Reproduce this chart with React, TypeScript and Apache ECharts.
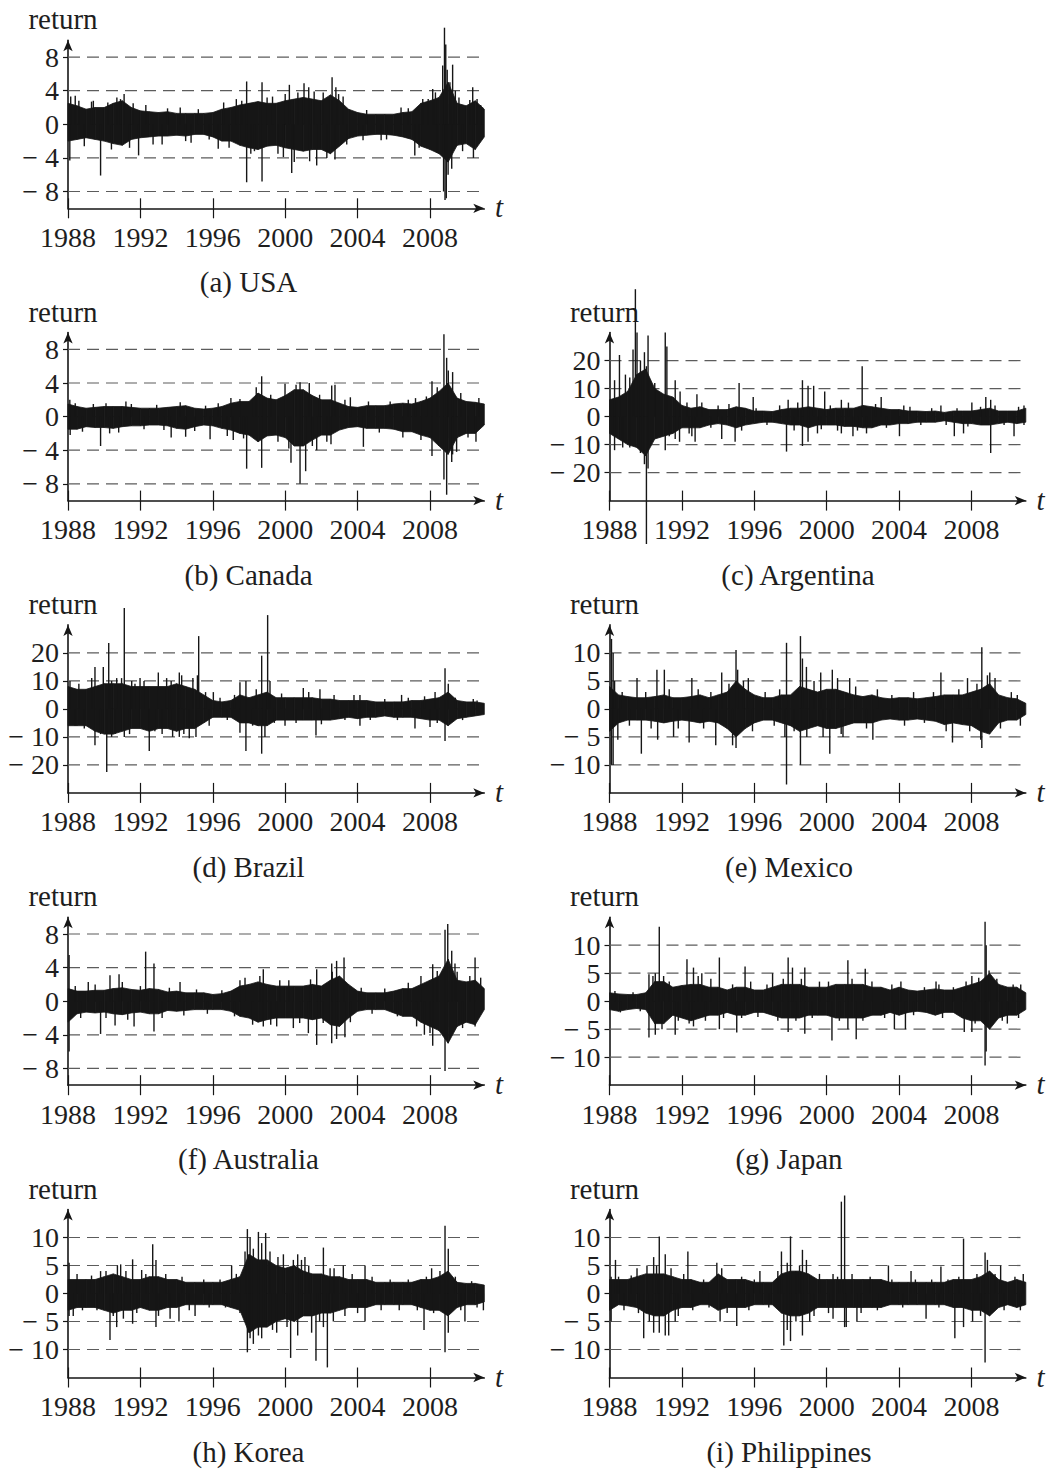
import React, { useEffect, useRef } from "react";
import * as echarts from "echarts";

// ---------------- DATA ----------------
// Half-year nodes of the dense return band (upper / lower envelope)
const BIN_YEARS = [
  1988, 1988.5, 1989, 1989.5, 1990, 1990.5, 1991, 1991.5, 1992, 1992.5,
  1993, 1993.5, 1994, 1994.5, 1995, 1995.5, 1996, 1996.5, 1997, 1997.5,
  1998, 1998.5, 1999, 1999.5, 2000, 2000.5, 2001, 2001.5, 2002, 2002.5,
  2003, 2003.5, 2004, 2004.5, 2005, 2005.5, 2006, 2006.5, 2007, 2007.5,
  2008, 2008.5, 2009, 2009.5, 2010, 2010.5, 2011,
];
const YEAR_TICKS = [1988, 1992, 1996, 2000, 2004, 2008];

const TICKS_8 = [-8, -4, 0, 4, 8];
const TICKS_20 = [-20, -10, 0, 10, 20];
const TICKS_10 = [-10, -5, 0, 5, 10];

const USA_HI = [
  2.5, 2.2, 1.8, 2.0, 2.0, 2.5, 2.8, 2.0, 1.6, 1.5,
  1.4, 1.5, 1.3, 1.3, 1.3, 1.3, 1.4, 1.8, 2.0, 2.3,
  2.5, 2.7, 2.5, 2.5, 2.8, 3.0, 3.2, 3.0, 2.8, 3.5,
  2.8, 1.8, 1.4, 1.2, 1.2, 1.2, 1.2, 1.4, 1.5, 2.5,
  2.8, 3.2, 5.0, 2.5, 2.2, 2.8, 1.8,
];
const USA_LO = [
  -2.0, -1.8, -1.6, -1.8, -2.0, -2.3, -2.5, -1.8, -1.6, -1.5,
  -1.4, -1.4, -1.3, -1.4, -1.2, -1.2, -1.5, -2.0, -2.0, -2.5,
  -2.8, -3.0, -2.6, -2.5, -2.8, -3.0, -3.2, -3.0, -3.0, -3.5,
  -2.6, -1.7, -1.4, -1.3, -1.2, -1.2, -1.3, -1.5, -1.8, -2.6,
  -3.0, -3.5, -4.5, -2.5, -2.3, -3.0, -1.5,
];
const USA_SPIKES = [
  [1988.1, -4.3], [1988.15, 3.3], [1988.6, 2.8], [1989.3, 2.7], [1989.8, -6.1],
  [1990.4, -3.0], [1990.7, 3.2], [1991.1, 3.6], [1991.4, -2.8], [1991.9, -3.7],
  [1992.3, 2.3], [1993.2, -2.4], [1994.2, 2.0], [1994.8, -2.2], [1996.3, -2.9],
  [1996.6, 2.6], [1997.3, 3.0], [1997.87, 5.1], [1997.87, -6.9], [1998.3, -3.2],
  [1998.72, 5.0], [1998.72, -6.8], [1999.3, 3.3], [1999.9, -3.9], [2000.23, 4.7],
  [2000.36, -5.8], [2000.7, 3.8], [2001.04, 4.9], [2001.3, 4.4], [2001.35, -4.4],
  [2001.74, -4.9], [2002.1, 3.8], [2002.59, 5.6], [2002.75, -4.2], [2002.8, 4.4],
  [2003.2, 3.3], [2004.3, -1.9], [2005.3, -1.9], [2006.4, 2.0], [2007.16, -3.7],
  [2007.6, 3.0], [2008.15, 4.2], [2008.4, -3.4], [2008.7, 7.0], [2008.75, -8.0],
  [2008.8, 11.5], [2008.83, -9.0], [2008.87, 9.5], [2008.9, -8.8], [2008.95, 6.5],
  [2009.0, -6.0], [2009.1, 5.0], [2009.2, -5.3], [2009.25, 7.1], [2009.4, 4.0],
  [2010.36, 4.4], [2010.4, -4.0], [2010.6, 3.0], [2010.8, 2.3],
];
const USA_FRINGE = [
  [1988.4, 3.4], [1988.9, -2.6], [1989.4, 2.8], [1990.2, 2.6], [1990.9, 3.0],
  [1991.6, 2.5], [1992.7, -2.4], [1993.5, 1.9], [1994.5, -2.0], [1995.2, 1.8],
  [1995.8, -1.8], [1996.9, -2.8], [1997.6, 2.8], [1998.1, -3.5], [1999.0, 3.2],
  [1999.6, -3.5], [2000.0, 3.6], [2000.5, -4.5], [2001.6, 3.9], [2002.3, -4.0],
  [2002.95, 3.6], [2003.4, -2.4], [2004.5, 1.7], [2005.6, -1.8], [2006.8, 1.9],
  [2007.4, -2.8], [2007.9, 3.0], [2008.3, 3.8], [2009.6, 3.2], [2009.8, -3.2],
  [2010.2, 2.9], [2010.9, 2.0],
];

const CAN_HI = [
  1.5, 1.2, 1.0, 1.1, 1.2, 1.2, 1.2, 1.1, 1.0, 1.0,
  1.0, 1.1, 1.2, 1.3, 1.0, 0.9, 1.0, 1.2, 1.6, 1.8,
  1.8, 2.8, 2.2, 2.0, 2.5, 3.2, 3.2, 2.5, 2.0, 2.0,
  1.6, 1.2, 1.1, 1.3, 1.3, 1.3, 1.5, 1.6, 1.5, 1.8,
  2.2, 3.0, 4.0, 2.2, 1.8, 1.7, 1.5,
];
const CAN_LO = [
  -1.5, -1.5, -1.2, -1.3, -1.3, -1.4, -1.2, -1.1, -1.1, -1.0,
  -1.0, -1.1, -1.4, -1.5, -1.2, -1.0, -1.1, -1.4, -1.6, -2.0,
  -2.2, -3.0, -2.3, -2.2, -2.5, -3.5, -3.5, -2.8, -2.2, -2.2,
  -1.6, -1.3, -1.2, -1.4, -1.4, -1.4, -1.5, -1.8, -1.8, -2.2,
  -2.5, -3.5, -4.5, -2.5, -2.0, -2.0, -1.0,
];
const CAN_SPIKES = [
  [1988.1, 2.0], [1988.12, -2.2], [1989.8, -3.5], [1990.3, -2.0], [1991.2, 1.8],
  [1993.7, -2.5], [1994.5, -2.4], [1995.85, -2.7], [1996.8, -2.3], [1997.13, -2.8],
  [1997.5, 2.1], [1997.87, -6.2], [1998.24, 2.1], [1998.7, 4.8], [1998.7, -6.1],
  [1999.99, 3.9], [2000.32, -5.5], [2000.82, 4.1], [2000.82, -8.0], [2001.13, -6.5],
  [2001.33, 4.0], [2001.74, -4.0], [2002.53, -3.3], [2002.57, 3.7], [2002.75, 3.8],
  [2003.6, 2.3], [2004.32, -3.6], [2006.5, -2.5], [2007.2, 2.2], [2008.11, 4.2],
  [2008.11, -4.7], [2008.77, 9.8], [2008.77, -7.5], [2008.92, -9.3], [2008.92, 7.0],
  [2009.01, 5.5], [2009.2, -5.4], [2009.25, 5.3], [2009.25, -4.5], [2009.47, -4.2],
  [2010.54, -3.0],
];
const CAN_FRINGE = [
  [1988.4, 1.6], [1988.8, -1.8], [1989.4, 1.5], [1990.1, 1.6], [1990.8, -1.9],
  [1991.5, 1.5], [1992.2, -1.5], [1992.9, 1.4], [1993.3, -1.6], [1994.2, 1.7],
  [1995.0, -1.7], [1995.6, 1.3], [1996.3, 1.6], [1997.0, 2.2], [1997.7, -2.6],
  [1998.4, 3.5], [1999.2, 2.6], [1999.6, -3.0], [2000.2, -3.8], [2000.6, 3.8],
  [2001.5, -3.5], [2001.9, 2.6], [2002.3, -3.0], [2003.3, 2.0], [2004.6, 1.8],
  [2005.2, -1.9], [2005.8, 1.8], [2006.8, 2.0], [2007.5, -2.8], [2007.8, 2.4],
  [2008.4, 3.5], [2009.7, 2.8], [2010.1, -2.5], [2010.7, 2.2],
];

const ARG_HI = [
  6, 7, 9, 15, 17, 10, 8, 7, 4, 3,
  3.5, 2.5, 2.5, 2.5, 3.5, 3, 2, 2, 1.8, 2.5,
  3, 3, 3.5, 3, 2.5, 3, 3, 3, 4, 3.5,
  3, 2.5, 2.5, 2, 2, 1.8, 2, 1.5, 2, 2,
  2, 2.5, 3, 2, 2, 2, 3,
];
const ARG_LO = [
  -6, -8, -10, -11, -14, -8, -7, -6, -4, -4,
  -4, -3, -2.5, -3, -4, -3, -2.5, -2, -2, -2.5,
  -3, -3, -4, -3, -3, -3, -3.5, -3.5, -4, -4,
  -3, -3, -2.5, -2.5, -2, -2, -2, -1.5, -2, -2.5,
  -2.5, -3, -3, -2.5, -2, -2.5, -2,
];
const ARG_SPIKES = [
  [1988.28, 13], [1988.28, -12], [1988.55, 22], [1988.73, -11], [1988.88, 15],
  [1989.12, 14], [1989.12, -11], [1989.3, 24], [1989.43, 45.5], [1989.52, 30],
  [1989.71, 20], [1989.71, -13], [1989.93, 23], [1989.93, -17], [1990.04, -45.5],
  [1990.04, 18], [1990.13, 29], [1990.13, -18.5], [1990.5, 12], [1991.08, 30],
  [1991.08, -12], [1991.17, 25], [1991.63, 13], [1991.63, -8], [1991.87, -9],
  [1992.28, 5], [1992.55, -7], [1992.73, -9], [1992.83, 8], [1994.2, -8],
  [1994.94, -9], [1995.16, 12], [1995.94, 7], [1997.78, -12.5], [1997.87, 6],
  [1998.66, 13], [1998.66, -10.5], [1998.97, 11], [1998.97, -9], [1999.28, 11],
  [1999.49, -6], [1999.89, 9], [2000.81, 6], [2000.81, -6], [2001.45, -7],
  [2001.96, 18], [2003.01, 7], [2004.02, -7], [2004.26, 4], [2006.31, 4],
  [2007.05, -7], [2007.56, -6], [2008.02, 5], [2008.79, 7], [2009.06, -13],
  [2009.06, 6], [2010.35, -7], [2010.9, 4], [2010.9, -3],
];
const ARG_FRINGE = [
  [1988.1, 6], [1988.6, -8], [1991.3, -7], [1991.9, 9], [1992.4, -6],
  [1993.1, 5], [1993.6, -4], [1994.0, 4], [1994.6, 4.5], [1995.3, -5],
  [1996.1, 3], [1996.7, -3], [1997.4, 4], [1998.2, -5], [1998.4, 5],
  [1999.7, -4.5], [2000.2, 4], [2000.6, -5], [2001.2, 5], [2001.7, -5],
  [2002.2, -6], [2002.7, 4.5], [2003.3, -4], [2004.6, 3.5], [2005.2, -3],
  [2005.8, 3], [2006.6, -3], [2007.2, 3], [2007.8, -3.5], [2008.5, 3.5],
  [2009.3, 4], [2009.8, -3], [2010.6, 3.5],
];

const BRA_HI = [
  8, 7, 7, 8, 9, 9, 9, 8, 8, 8,
  8, 8, 9, 8, 7, 5, 3, 2.5, 3, 5,
  4, 5, 6, 4, 4, 4, 4, 4, 3.5, 3.5,
  3, 3, 3, 3, 2.5, 2.5, 2.5, 2.5, 3, 3,
  3.5, 4, 6, 3, 2.5, 2.5, 2,
];
const BRA_LO = [
  -6, -6, -6, -8, -9, -9, -8, -7, -7, -8,
  -7, -7, -8, -7, -7, -5, -3, -3, -3, -5,
  -5, -6, -6, -4, -4, -4, -4, -4, -4, -4,
  -3.5, -3, -3.5, -3, -3, -2.5, -3, -3, -3, -3.5,
  -4, -4, -6, -3.5, -3, -2.5, -2,
];
const BRA_SPIKES = [
  [1988.11, 10], [1988.39, -6], [1989.31, 11], [1989.49, 15], [1989.49, -13],
  [1989.95, 15], [1990.14, -22.5], [1990.25, 23.5], [1990.41, 10], [1990.41, -10],
  [1990.69, 11], [1990.96, 11], [1991.11, 36], [1991.11, -10], [1991.52, 10],
  [1991.98, 11], [1992.49, -15], [1992.99, 13], [1993.45, 11], [1993.78, -10],
  [1994.15, 13], [1994.15, -10], [1994.28, 12], [1994.7, -10.5], [1995.07, -10],
  [1995.15, 12], [1995.22, 26], [1996.03, 6], [1997.5, 9.5], [1997.5, -8.5],
  [1997.83, 10], [1997.83, -15], [1998.7, 19], [1998.7, -16], [1998.88, -10],
  [1999.03, 33.5], [1999.16, 10], [1999.99, -6], [2001.0, 7.5], [2001.7, -9.5],
  [2001.92, 7], [2004.13, -6], [2004.13, 5], [2006.43, 5], [2007.17, -7],
  [2008.0, -6.5], [2008.28, 6], [2008.83, 14.5], [2008.83, -11.5], [2009.01, 9],
  [2010.39, 3.5],
];
const BRA_FRINGE = [
  [1988.6, 9], [1988.9, -7], [1989.8, -9], [1990.6, -9], [1991.4, -9],
  [1991.7, 9], [1992.2, 10], [1992.8, -8], [1993.2, -9], [1993.7, 10],
  [1994.4, -9], [1994.9, 11], [1995.6, 6], [1995.8, -6], [1996.4, 4],
  [1996.8, -4], [1997.2, 5], [1998.2, -6], [1998.4, 7], [1999.4, -5],
  [1999.8, 5.5], [2000.6, -5], [2001.3, 6], [2002.0, -5.5], [2002.7, 5],
  [2003.3, -4], [2003.8, 5], [2004.7, -4], [2005.5, 3.5], [2006.2, -4],
  [2006.8, 4], [2007.7, 4.5], [2008.4, -5], [2009.4, 4], [2009.8, -4],
  [2010.6, 3],
];

const MEX_HI = [
  4, 2.5, 2.2, 2, 2, 2.2, 2.5, 2, 2, 2.2,
  2.5, 2, 2.5, 3, 5, 3.5, 2.5, 2, 2, 2.5,
  2.5, 4, 3.5, 3, 3.5, 3.5, 3, 2.5, 2.2, 2.5,
  2, 1.8, 2, 2, 1.8, 2, 2.2, 2.5, 2.5, 2.5,
  3, 3.5, 4.5, 2.5, 2, 1.8, 1,
];
const MEX_LO = [
  -4, -2.5, -2, -2, -2, -2.2, -2.5, -2.2, -2, -2.2,
  -2.5, -2.2, -2.5, -3.5, -5, -3.5, -2.5, -2, -2, -2.5,
  -3, -4, -3.5, -3, -3.5, -3.5, -3, -2.5, -2.5, -2.5,
  -2, -1.8, -2, -2, -1.8, -2, -2.2, -2.8, -2.5, -2.8,
  -3, -4, -4.5, -2.5, -2, -2, -1,
];
const MEX_SPIKES = [
  [1988.11, 12.5], [1988.11, -10], [1988.2, -10], [1988.2, 10], [1988.28, 5],
  [1988.46, -5.5], [1989.52, 5.5], [1989.76, -8], [1990.62, 7], [1990.66, -5.5],
  [1991.03, 7], [1991.54, -5], [1992.4, -6], [1992.55, 5.5], [1993.87, -6.5],
  [1994.2, 6.5], [1994.99, 10.5], [1994.99, -7], [1995.08, 7], [1995.67, 5.5],
  [1997.69, -5], [1997.78, 11.8], [1997.78, -13.5], [1998.55, 13], [1998.55, -10],
  [1998.66, 9], [1998.88, 7.5], [1999.67, 6.5], [2000.17, -8], [2000.31, 7],
  [2000.9, -5], [2001.27, 5.5], [2002.55, -5.5], [2006.31, 6.5], [2006.95, -6],
  [2007.78, 5.5], [2008.51, -5.5], [2008.57, 11], [2008.57, -7], [2008.88, 6],
  [2009.01, 6.5], [2010.53, 2.5],
];
const MEX_FRINGE = [
  [1988.7, 3], [1989.1, -3], [1990.0, 3], [1990.3, -3.5], [1991.3, 3.5],
  [1991.8, -3.5], [1992.9, 3.5], [1993.2, -3.5], [1993.6, 3], [1994.6, 4.5],
  [1994.8, -6.5], [1995.4, 5], [1995.9, -4], [1996.6, 3], [1997.1, -3],
  [1997.4, 3.5], [1998.2, -4], [1998.9, -5], [1999.3, 5], [1999.8, -5],
  [2000.6, 5.5], [2000.8, -4.5], [2001.6, 4], [2002.2, -3.5], [2002.8, 3.5],
  [2003.6, 2.5], [2004.3, -3], [2004.8, 3], [2005.4, -2.5], [2005.9, 3],
  [2006.6, -4], [2007.3, 3.5], [2007.9, -4], [2008.3, 4.5], [2009.3, 5.5],
  [2009.6, -3.5], [2010.2, 3], [2010.7, -3],
];

const AUS_HI = [
  1.5, 1.2, 1.2, 1.3, 1.3, 1.5, 1.6, 1.4, 1.3, 1.5,
  1.4, 1.1, 1.2, 1.0, 1.0, 1.0, 0.8, 0.9, 1.2, 1.8,
  2.0, 2.3, 2.0, 1.8, 1.8, 1.8, 1.8, 2.0, 1.8, 2.5,
  3.0, 2.0, 1.2, 1.0, 1.0, 1.0, 1.2, 1.5, 1.5, 2.0,
  2.5, 3.0, 5.0, 2.5, 2.3, 2.5, 1.5,
];
const AUS_LO = [
  -2.5, -1.5, -1.3, -1.4, -1.3, -1.5, -1.6, -1.4, -1.3, -1.5,
  -1.5, -1.1, -1.2, -1.1, -1.0, -1.0, -1.0, -1.0, -1.2, -1.8,
  -2.0, -2.5, -2.2, -2.0, -2.0, -2.0, -2.0, -2.2, -2.0, -2.8,
  -3.0, -2.0, -1.2, -1.0, -1.0, -1.0, -1.4, -1.8, -1.8, -2.5,
  -3.0, -3.5, -5.0, -3.0, -2.5, -2.8, -1.0,
];
const AUS_SPIKES = [
  [1988.06, 5.5], [1988.06, -6], [1989.12, 2.3], [1989.8, -3.9], [1990.32, 3.1],
  [1990.6, -2.9], [1990.82, 3.2], [1991.65, -3], [1992.29, 5.9], [1992.75, 4.5],
  [1992.75, -3.6], [1994.19, 2.3], [1997.78, 2.8], [1998.79, 3.8], [1998.79, -3],
  [1999.53, -3], [2000.45, -3.2], [2001.28, -3.8], [2001.74, 3.8], [2001.74, -5.2],
  [2002.57, 4.5], [2002.57, -5], [2002.84, 4.8], [2002.84, -4.5], [2003.25, 5.2],
  [2003.3, -4.3], [2007.26, -3], [2007.69, -4], [2008.15, 4.4], [2008.15, -5.3],
  [2008.83, 8.5], [2008.83, -8.3], [2008.98, 9.2], [2009.2, 6], [2009.38, 4.5],
  [2010.49, 5.2], [2010.49, -3],
];
const AUS_FRINGE = [
  [1988.4, 1.8], [1988.7, -2], [1989.5, 2], [1990.1, -2], [1991.0, 2.3],
  [1991.3, -2.2], [1992.0, 1.8], [1993.2, -2], [1993.6, 1.6], [1994.4, -1.7],
  [1995.1, 1.4], [1995.7, -1.5], [1996.5, 1.3], [1997.2, -1.8], [1997.5, 2.5],
  [1998.2, -2.8], [1998.6, 3.0], [1999.2, -2.8], [1999.7, 2.5], [2000.2, 2.5],
  [2000.8, -2.6], [2001.4, 2.6], [2002.1, -2.6], [2002.6, 3.5], [2003.6, -2.5],
  [2004.2, 1.6], [2004.8, -1.5], [2005.5, 1.5], [2006.2, -1.8], [2006.8, 2.2],
  [2007.5, 3], [2008.0, -3.8], [2008.4, 3.6], [2009.5, 3.5], [2009.8, -3.2],
  [2010.2, 3], [2010.8, 2.8],
];

const JPN_HI = [
  1.5, 1.3, 1.2, 1.2, 1.5, 3.5, 3.5, 2.5, 2.8, 3,
  3, 2.5, 2.5, 2, 2.5, 2.5, 2, 2, 2.5, 3,
  3, 3, 2.5, 2.5, 2.5, 3, 3, 3, 3, 2.5,
  2.5, 2, 2.5, 2, 1.8, 2, 2.2, 2, 2, 2.5,
  3, 3.5, 5, 3, 2.5, 2.5, 1.5,
];
const JPN_LO = [
  -1.5, -1.8, -1.5, -1.3, -1.5, -4, -4, -2.5, -3, -3.5,
  -3, -2.5, -2.5, -2, -2.5, -2.5, -2, -2, -2.5, -3,
  -3, -3, -2.5, -2.5, -2.5, -3, -3, -3, -3, -2.5,
  -2.5, -2, -2.5, -2, -1.8, -2, -2.5, -2, -2, -3,
  -3.5, -3.5, -5, -3, -2.5, -2.5, -1.5,
];
const JPN_SPIKES = [
  [1990.18, 4.8], [1990.18, -6.5], [1990.53, 5], [1990.53, -6], [1990.75, 13.3],
  [1990.99, 4.5], [1991.63, -6], [1992.28, 7.5], [1992.64, 6], [1992.64, -4.5],
  [1993.1, 5], [1994.07, 7.8], [1994.07, -5], [1995.03, -5.6], [1995.49, 6.2],
  [1997.01, 5], [1997.87, 7.8], [1997.87, -5.5], [1998.11, 6], [1998.79, -5.8],
  [1998.79, 6], [2000.29, -7], [2001.17, 7.3], [2001.17, -5], [2001.63, -6.8],
  [2002.13, 5.8], [2003.74, -5], [2004.35, -5], [2006.04, 3.5], [2007.6, -5.5],
  [2008.02, 4.5], [2008.02, -5.5], [2008.75, 14.2], [2008.75, -11.5], [2008.81, 10],
  [2008.81, -9], [2008.97, 5.5], [2009.98, -4], [2010.72, 3],
];
const JPN_FRINGE = [
  [1988.3, 1.8], [1988.6, -2], [1989.3, 1.6], [1989.7, -1.8], [1990.4, 4.5],
  [1990.9, -5], [1991.3, 3.5], [1991.8, -3.5], [1992.4, -4], [1992.9, 4.5],
  [1993.3, -3.5], [1993.6, 4], [1994.3, -3], [1994.8, 3], [1995.3, -3],
  [1995.8, 3.5], [1996.2, -2.8], [1996.7, 3], [1997.3, -3.5], [1997.6, 4],
  [1998.3, -3.5], [1998.6, 4], [1999.2, -3], [1999.6, 3.5], [2000.1, 3.5],
  [2000.7, -3.5], [2001.4, 4], [2002.0, -3.5], [2002.5, 3.5], [2003.2, -3],
  [2003.6, 3], [2004.1, 3.5], [2004.8, -2.5], [2005.4, 2.5], [2006.2, 3],
  [2006.4, -3], [2007.0, 2.5], [2007.7, 3.5], [2008.2, -4], [2008.4, 4.2],
  [2009.4, 4], [2009.7, -3.5], [2010.3, 3], [2010.6, -3],
];

const KOR_HI = [
  2.5, 2.5, 2.5, 2.5, 3, 3.5, 3, 2.5, 2.5, 3,
  3, 2.5, 2.5, 2, 2, 2, 2, 2, 2.5, 3,
  7, 6, 6, 5, 4.5, 5, 4, 3.5, 3.5, 3,
  3, 2.5, 2.5, 2.5, 2, 2, 2, 2, 2, 2.5,
  2.5, 3, 4, 2, 1.8, 1.8, 1.5,
];
const KOR_LO = [
  -3, -2.5, -2.5, -2.5, -3, -3.5, -3, -3, -2.5, -3,
  -3, -2.5, -2.5, -2, -2, -2, -2, -2, -2.5, -3,
  -7, -6, -6, -5, -4.5, -5, -4, -4, -3.5, -3.5,
  -3, -2.5, -2.5, -2.5, -2, -2, -2, -2, -2, -2.5,
  -3, -3, -4, -2.5, -2, -2, -1.5,
];
const KOR_SPIKES = [
  [1988.06, 5.5], [1988.06, -4], [1988.29, -4], [1989.8, 4], [1990.32, -8.3],
  [1990.69, -6], [1990.73, 5], [1990.91, 5.2], [1991.06, -4.5], [1991.57, 6.1],
  [1991.57, -5.4], [1992.07, 4.2], [1992.68, 8.8], [1992.86, 6], [1992.86, -6],
  [1993.64, -4.5], [1994.13, -5], [1995.02, -4], [1997.04, 5], [1997.5, -3.5],
  [1997.78, 7.5], [1997.91, 11.5], [1997.91, -10.5], [1998.06, 10], [1998.06, -8],
  [1998.24, 8], [1998.24, -9], [1998.52, 11], [1998.52, -7.5], [1998.7, 9],
  [1998.92, 10.8], [1998.92, -6], [1999.16, 7.5], [1999.53, -7], [1999.9, 7],
  [2000.3, -11.5], [2000.45, 6], [2000.69, 7], [2000.69, -7.5], [2001.09, 6.5],
  [2001.46, -7], [2001.7, -12], [2002.11, 8.2], [2002.11, -6], [2002.33, -13.2],
  [2002.48, 4.5], [2002.66, -5], [2003.21, 5], [2004.41, 5], [2004.41, -5],
  [2007.67, -6.5], [2008.09, 4.5], [2008.55, 4], [2008.83, 12.1], [2008.83, -10.5],
  [2009.01, 8], [2009.01, -7], [2009.93, -5], [2010.95, -3],
];
const KOR_FRINGE = [
  [1988.5, 3.5], [1988.8, -3], [1989.3, 3.2], [1989.6, -3], [1990.1, 4],
  [1990.5, -4], [1991.2, 4], [1991.8, -3.5], [1992.3, 3.5], [1993.0, -4],
  [1993.4, 3.5], [1994.3, 3], [1994.7, -3], [1995.5, 2.5], [1995.8, -2.5],
  [1996.4, 2.5], [1996.7, -2.5], [1997.3, 3.5], [1998.7, -8], [1999.3, -6.5],
  [1999.6, 6.5], [2000.1, -6], [2000.9, 6], [2001.3, 5], [2001.9, -5],
  [2002.7, 4.5], [2003.3, -4], [2003.7, 3.5], [2004.0, -3.5], [2004.8, 3],
  [2005.3, -3], [2005.8, 2.5], [2006.3, -3], [2006.8, 2.5], [2007.3, -3],
  [2007.8, 3], [2008.2, -3.5], [2009.4, 3], [2009.7, -3], [2010.3, 2.2],
  [2010.6, -2.5],
];

const PHL_HI = [
  2.5, 2.5, 2.5, 3, 3.5, 3.5, 3.5, 3, 2.5, 2.5,
  2, 2, 3.5, 2.5, 2.5, 2.5, 2, 2, 2, 3.5,
  4, 4, 3.5, 2.5, 2.5, 2.5, 2.5, 2.5, 2.5, 2.5,
  2.5, 2, 2, 2, 2, 2, 2, 2, 2.5, 2.5,
  2.5, 3, 4, 2.5, 2, 2.5, 2,
];
const PHL_LO = [
  -3, -2, -2.2, -2.5, -3.5, -4, -4, -3, -2.5, -2.5,
  -2, -2, -3, -2.5, -2.5, -2.5, -2, -2, -2, -3.5,
  -4, -4, -3.5, -2.5, -2.5, -2.5, -2.5, -2.5, -2.5, -2.5,
  -2.5, -2, -2, -2, -2, -2, -2, -2, -2.5, -2.5,
  -3, -3, -4, -2.5, -2, -2.5, -2,
];
const PHL_SPIKES = [
  [1988.09, 3], [1988.09, -5], [1988.33, 6], [1989.52, 4.5], [1989.89, -8],
  [1990.07, 5], [1990.44, 6.5], [1990.44, -7], [1990.75, 10.2], [1990.75, -7],
  [1991.08, 7], [1991.08, -7.5], [1991.27, -7.5], [1991.63, -5], [1992.33, 7.5],
  [1993.93, 5.5], [1994.11, -5], [1995.03, -5.8], [1996.31, 4], [1997.5, 7.5],
  [1997.63, -9.3], [1997.82, 5.5], [1997.82, -6.5], [1998.0, -8.5], [1998.0, 10.2],
  [1998.29, 4], [1998.66, 7.8], [1998.66, -7.5], [1998.88, 6], [1999.06, -5],
  [2000.35, 3.5], [2000.35, -4.5], [2000.81, 16.4], [2000.99, 17.5], [2000.99, -6],
  [2001.08, -6], [2001.67, -5], [2003.41, 5], [2004.66, 4], [2005.49, -4.5],
  [2006.31, 4.8], [2007.08, -8], [2007.56, 9.8], [2007.56, -6], [2008.06, -5],
  [2008.75, 7.3], [2008.75, -12.3], [2008.88, 6], [2009.61, 5], [2010.86, 3.5],
];
const PHL_FRINGE = [
  [1988.5, 3], [1988.8, -3], [1989.2, 3.2], [1989.6, -3.5], [1990.2, -5],
  [1990.6, 5], [1991.4, 4.5], [1991.8, -4], [1992.1, 3.5], [1992.6, -3],
  [1993.2, 2.5], [1993.5, -2.5], [1994.2, 4.5], [1994.5, -3.5], [1995.3, 3],
  [1995.7, -3], [1996.0, 2.5], [1996.8, -2.5], [1997.3, 4], [1998.3, -5],
  [1998.5, 5], [1999.3, -4], [1999.6, 3.5], [2000.1, -3.5], [2000.6, 3],
  [2001.4, 3.5], [2001.9, -3.5], [2002.4, 3], [2002.8, -3], [2003.6, 2.5],
  [2004.2, -2.5], [2004.9, 2.5], [2005.8, 2.5], [2006.2, -2.5], [2006.7, 2.5],
  [2007.3, 3], [2008.3, 3.5], [2008.5, -4], [2009.3, 3.5], [2009.8, -3],
  [2010.4, 3], [2010.7, -3],
];

// ---------------- LAYOUT ----------------
const FONT = '"Liberation Serif", "Times New Roman", serif';
const INK = "#161616";
const TEXT = "#1e1e1e";
const COL_LEFT = [68, 609.5];
const PLOT_W = 416.3;
const PLOT_H = 168;
const ROW_BASE = [208.3, 500.6, 792.9, 1085.2, 1377.5];
const X_MIN = 1988;
const X_MAX = 2011;
const TICK_FONT = 28;
const TEXT_FONT = 29;

const PANELS = [
  { caption: "(a) USA", row: 0, col: 0, hi: USA_HI, lo: USA_LO, spikes: USA_SPIKES, fringe: USA_FRINGE, ticks: TICKS_8, range: 10, capX: 248.5 },
  { caption: "(b) Canada", row: 1, col: 0, hi: CAN_HI, lo: CAN_LO, spikes: CAN_SPIKES, fringe: CAN_FRINGE, ticks: TICKS_8, range: 10, capX: 248.5 },
  { caption: "(c) Argentina", row: 1, col: 1, hi: ARG_HI, lo: ARG_LO, spikes: ARG_SPIKES, fringe: ARG_FRINGE, ticks: TICKS_20, range: 30, capX: 798 },
  { caption: "(d) Brazil", row: 2, col: 0, hi: BRA_HI, lo: BRA_LO, spikes: BRA_SPIKES, fringe: BRA_FRINGE, ticks: TICKS_20, range: 30, capX: 248.5 },
  { caption: "(e) Mexico", row: 2, col: 1, hi: MEX_HI, lo: MEX_LO, spikes: MEX_SPIKES, fringe: MEX_FRINGE, ticks: TICKS_10, range: 15, capX: 789 },
  { caption: "(f) Australia", row: 3, col: 0, hi: AUS_HI, lo: AUS_LO, spikes: AUS_SPIKES, fringe: AUS_FRINGE, ticks: TICKS_8, range: 10, capX: 248.5 },
  { caption: "(g) Japan", row: 3, col: 1, hi: JPN_HI, lo: JPN_LO, spikes: JPN_SPIKES, fringe: JPN_FRINGE, ticks: TICKS_10, range: 15, capX: 789 },
  { caption: "(h) Korea", row: 4, col: 0, hi: KOR_HI, lo: KOR_LO, spikes: KOR_SPIKES, fringe: KOR_FRINGE, ticks: TICKS_10, range: 15, capX: 248.5 },
  { caption: "(i) Philippines", row: 4, col: 1, hi: PHL_HI, lo: PHL_LO, spikes: PHL_SPIKES, fringe: PHL_FRINGE, ticks: TICKS_10, range: 15, capX: 789 },
];

const fmtY = (v: number) => (v < 0 ? "\u2212 " + Math.abs(v) : String(v));
const fmtX = (v: number) => String(Math.round(v));

function buildOption() {
  const grid: any[] = [];
  const xAxis: any[] = [];
  const yAxis: any[] = [];
  const series: any[] = [];
  const graphic: any[] = [];

  PANELS.forEach((p, i) => {
    const left = COL_LEFT[p.col];
    const base = ROW_BASE[p.row];
    grid.push({ left, top: base - PLOT_H, width: PLOT_W, height: PLOT_H });

    xAxis.push({
      gridIndex: i,
      type: "value",
      min: X_MIN,
      max: X_MAX,
      interval: 4,
      axisLine: {
        show: true,
        onZero: false,
        lineStyle: { color: INK, width: 1.6 },
        symbol: ["none", "arrow"],
        symbolSize: [7, 11],
      },
      axisTick: { show: true, inside: true, length: 10, customValues: YEAR_TICKS, lineStyle: { color: INK, width: 1.2 } },
      axisLabel: { show: true, customValues: YEAR_TICKS, formatter: fmtX, margin: 15, fontFamily: FONT, fontSize: TICK_FONT, color: TEXT },
      splitLine: { show: false },
    });
    xAxis.push({
      gridIndex: i,
      type: "value",
      position: "bottom",
      min: X_MIN,
      max: X_MAX,
      interval: 4,
      axisLine: { show: false, onZero: false },
      axisTick: { show: true, inside: false, length: 10, customValues: YEAR_TICKS, lineStyle: { color: INK, width: 1.2 } },
      axisLabel: { show: false },
      splitLine: { show: false },
    });

    yAxis.push({
      gridIndex: i,
      type: "value",
      min: -p.range,
      max: p.range,
      axisLine: {
        show: true,
        onZero: false,
        lineStyle: { color: INK, width: 1.6 },
        symbol: ["none", "arrow"],
        symbolSize: [7, 11],
      },
      axisTick: { show: true, length: 5, customValues: p.ticks, lineStyle: { color: INK, width: 1.2 } },
      axisLabel: { show: true, customValues: p.ticks, formatter: fmtY, margin: 9, fontFamily: FONT, fontSize: TICK_FONT, color: TEXT },
      splitLine: { show: false },
    });

    // dashed reference lines
    series.push({
      type: "custom",
      xAxisIndex: 2 * i,
      yAxisIndex: i,
      z: 1,
      silent: true,
      clip: false,
      encode: { y: 0 },
      data: p.ticks.map((v) => [v]),
      renderItem: (_params: any, api: any) => {
        const v = api.value(0);
        const a = api.coord([X_MIN, v]);
        const b = api.coord([X_MAX, v]);
        return {
          type: "line",
          shape: { x1: a[0], y1: a[1], x2: b[0], y2: b[1] },
          style: { stroke: "#5c5c5c", lineWidth: 1.2, lineDash: [12, 7] },
        };
      },
    });

    // dense band
    const bandData = BIN_YEARS.slice(0, -1).map((t, k) => [
      t, p.lo[k], p.hi[k], BIN_YEARS[k + 1], p.lo[k + 1], p.hi[k + 1],
    ]);
    series.push({
      type: "custom",
      xAxisIndex: 2 * i,
      yAxisIndex: i,
      z: 3,
      silent: true,
      clip: false,
      encode: { x: [0, 3], y: [1, 2, 4, 5] },
      data: bandData,
      renderItem: (_params: any, api: any) => {
        const p1 = api.coord([api.value(0), api.value(2)]);
        const p2 = api.coord([api.value(3), api.value(5)]);
        const p3 = api.coord([api.value(3), api.value(4)]);
        const p4 = api.coord([api.value(0), api.value(1)]);
        return {
          type: "polygon",
          shape: { points: [p1, p2, p3, p4] },
          style: { fill: INK, stroke: INK, lineWidth: 0.8 },
        };
      },
    });

    // spikes (large isolated returns) and fringe (smaller ragged edge returns)
    series.push({
      type: "custom",
      xAxisIndex: 2 * i,
      yAxisIndex: i,
      z: 4,
      silent: true,
      clip: false,
      encode: { x: 0, y: 1 },
      data: p.spikes.concat(p.fringe),
      renderItem: (_params: any, api: any) => {
        const a = api.coord([api.value(0), 0]);
        const b = api.coord([api.value(0), api.value(1)]);
        return {
          type: "line",
          shape: { x1: a[0], y1: a[1], x2: b[0], y2: b[1] },
          style: { stroke: INK, lineWidth: 1.4 },
        };
      },
    });

    graphic.push({
      type: "text",
      x: left - 5,
      y: base - 189,
      style: { text: "return", fontFamily: FONT, fontSize: TEXT_FONT, fill: TEXT, align: "center", verticalAlign: "middle" },
    });
    graphic.push({
      type: "text",
      x: left + 431,
      y: base - 1,
      style: { text: "t", fontFamily: FONT, fontStyle: "italic", fontSize: TEXT_FONT, fill: TEXT, align: "center", verticalAlign: "middle" },
    });
    graphic.push({
      type: "text",
      x: p.capX,
      y: base + 74,
      style: { text: p.caption, fontFamily: FONT, fontSize: TEXT_FONT, fill: TEXT, align: "center", verticalAlign: "middle" },
    });
  });

  return {
    animation: false,
    backgroundColor: "#ffffff",
    grid,
    xAxis,
    yAxis,
    series,
    graphic,
  };
}

export default function App() {
  const ref = useRef<HTMLDivElement>(null);
  useEffect(() => {
    document.body.style.margin = "0";
    const chart = echarts.init(ref.current as HTMLDivElement, null, { renderer: "svg" });
    chart.setOption(buildOption() as any);
    return () => chart.dispose();
  }, []);
  return <div ref={ref} style={{ width: 1051, height: 1474 }} />;
}
